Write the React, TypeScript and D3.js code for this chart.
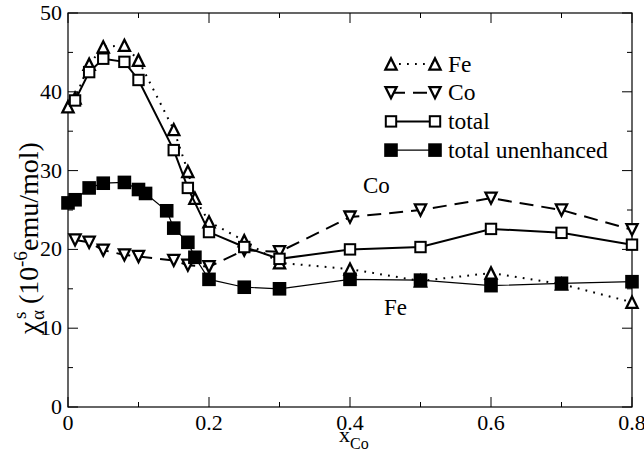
import * as d3 from "d3";

// Fe (open up-triangles, dotted)
const feX = [0, 0.01, 0.03, 0.05, 0.08, 0.1, 0.15, 0.17, 0.18, 0.2, 0.25, 0.3, 0.4, 0.5, 0.6, 0.7, 0.8];
const feY = [38.1, 39.2, 43.5, 45.7, 45.9, 44.0, 35.2, 29.9, 26.5, 23.5, 21.1, 18.3, 17.5, 16.0, 17.0, 15.6, 13.3];
// Co (open down-triangles, dashed)
const coX = [0.01, 0.03, 0.05, 0.08, 0.1, 0.15, 0.17, 0.2, 0.25, 0.3, 0.4, 0.5, 0.6, 0.7, 0.8];
const coY = [21.2, 20.9, 19.9, 19.3, 19.1, 18.6, 18.0, 17.8, 19.9, 19.7, 24.1, 25.0, 26.5, 25.0, 22.5];
// total (open squares)
const totX = [0.01, 0.03, 0.05, 0.08, 0.1, 0.15, 0.17, 0.2, 0.25, 0.3, 0.4, 0.5, 0.6, 0.7, 0.8];
const totY = [38.9, 42.5, 44.2, 43.8, 41.5, 32.6, 27.8, 22.2, 20.3, 18.8, 20.0, 20.3, 22.6, 22.1, 20.6];
// total unenhanced (filled squares)
const unX = [0, 0.01, 0.03, 0.05, 0.08, 0.1, 0.11, 0.14, 0.15, 0.17, 0.18, 0.2, 0.25, 0.3, 0.4, 0.5, 0.6, 0.7, 0.8];
const unY = [25.9, 26.3, 27.8, 28.4, 28.5, 27.6, 27.1, 24.9, 22.7, 20.9, 19.0, 16.2, 15.2, 15.0, 16.2, 16.1, 15.4, 15.7, 15.9];

const xTicks = [0, 0.2, 0.4, 0.6, 0.8];
const xTickLabels = ["0", "0.2", "0.4", "0.6", "0.8"];
const yTicks = [0, 10, 20, 30, 40, 50];
const legendLabels = ["Fe", "Co", "total", "total unenhanced"];

const W = 644;
const H = 453;
const L = 68, R = 632, T = 13, B = 407;
const font = '"Liberation Serif", "Times New Roman", Times, "DejaVu Serif", serif';

const x = d3.scaleLinear().domain([0, 0.8]).range([L, R]);
const y = d3.scaleLinear().domain([0, 50]).range([B, T]);

type Sym = "up" | "down" | "sq" | "fsq";

const marker = (kind: Sym, cx: number, cy: number, key?: string | number) => {
  if (kind === "up") {
    const s = 5.6;
    return <path key={key} d={`M${cx - s},${cy + s}L${cx},${cy - s}L${cx + s},${cy + s}Z`} fill="white" stroke="black" strokeWidth={2.3} />;
  }
  if (kind === "down") {
    const s = 5.6;
    return <path key={key} d={`M${cx - s},${cy - s}L${cx},${cy + s}L${cx + s},${cy - s}Z`} fill="white" stroke="black" strokeWidth={2.3} />;
  }
  if (kind === "sq") {
    const s = 5.2;
    return <rect key={key} x={cx - s} y={cy - s} width={2 * s} height={2 * s} fill="white" stroke="black" strokeWidth={2} />;
  }
  const s = 6.8;
  return <rect key={key} x={cx - s} y={cy - s} width={2 * s} height={2 * s} fill="black" />;
};

const series = [
  { xs: feX, ys: feY, sym: "up" as Sym, width: 2, dash: "1.8,6.2" },
  { xs: coX, ys: coY, sym: "down" as Sym, width: 2, dash: "14,8" },
  { xs: totX, ys: totY, sym: "sq" as Sym, width: 2, dash: "none" },
  { xs: unX, ys: unY, sym: "fsq" as Sym, width: 1.2, dash: "none" },
];

const line = d3.line<[number, number]>().x((d) => x(d[0])).y((d) => y(d[1]));

export default function App() {
  const xMinor = d3.range(0, 0.81, 0.1);
  const yMinor = d3.range(0, 50.1, 5);
  return (
    <svg width={W} height={H} style={{ position: "absolute", left: 0, top: 0, background: "white" }}>
      <rect x={0} y={0} width={W} height={H} fill="white" />
      {/* ticks, inward on all four sides */}
      <g stroke="black" strokeWidth={1}>
        {xMinor.map((v, i) => {
          const len = i % 2 === 0 ? 10 : 5;
          return (
            <g key={"xt" + i}>
              <line x1={x(v)} x2={x(v)} y1={B} y2={B - len} />
              <line x1={x(v)} x2={x(v)} y1={T} y2={T + len} />
            </g>
          );
        })}
        {yMinor.map((v, i) => {
          const len = i % 2 === 0 ? 10 : 5;
          return (
            <g key={"yt" + i}>
              <line x1={L} x2={L + len} y1={y(v)} y2={y(v)} />
              <line x1={R} x2={R - len} y1={y(v)} y2={y(v)} />
            </g>
          );
        })}
      </g>
      <rect x={L} y={T} width={R - L} height={B - T} fill="none" stroke="black" strokeWidth={1.2} />

      <g style={{ fontFamily: font }}>
        {/* tick labels */}
        <g fontSize={22} fill="black">
          {xTicks.map((v, i) => (
            <text key={"xl" + i} x={x(v)} y={B + 23} textAnchor="middle">{xTickLabels[i]}</text>
          ))}
          {yTicks.map((v) => (
            <text key={"yl" + v} x={L - 6} y={y(v) + 7} textAnchor="end">{v}</text>
          ))}
        </g>

        {/* axis titles */}
        <text x={339} y={442} fontSize={22}>
          x<tspan fontSize={16} dy={7}>Co</tspan>
        </text>
        <g transform={`translate(38,232) rotate(-90)`} fontSize={28}>
          <text x={-102} y={0}>χ</text>
          <text x={-87} y={-12} fontSize={19}>s</text>
          <text x={-88} y={6} fontSize={19}>α</text>
          <text x={-72} y={0}>(10</text>
          <text x={-35} y={-11} fontSize={19}>-6</text>
          <text x={-19} y={0}>emu/mol)</text>
        </g>
      </g>

      {/* data */}
      {series.map((s, si) => {
        const pts = s.xs.map((v, i) => [v, s.ys[i]] as [number, number]);
        return (
          <g key={"s" + si}>
            <path d={line(pts) || ""} fill="none" stroke="black" strokeWidth={s.width} strokeDasharray={s.dash} />
            {pts.map((p, i) => marker(s.sym, x(p[0]), y(p[1]), i))}
          </g>
        );
      })}

      <g style={{ fontFamily: font }}>
        {/* annotations */}
        <text x={363} y={193} fontSize={23}>Co</text>
        <text x={384} y={315} fontSize={23}>Fe</text>

        {/* legend */}
        {series.map((s, i) => {
          const ly = 64 + i * 28.7;
          return (
            <g key={"lg" + i}>
              <line x1={391} x2={435} y1={ly} y2={ly} stroke="black" strokeWidth={s.width} strokeDasharray={s.dash} />
              {marker(s.sym, 391, ly)}
              {marker(s.sym, 435, ly)}
              <text x={448} y={ly + 7.5} fontSize={23.5}>{legendLabels[i]}</text>
            </g>
          );
        })}
      </g>
    </svg>
  );
}
